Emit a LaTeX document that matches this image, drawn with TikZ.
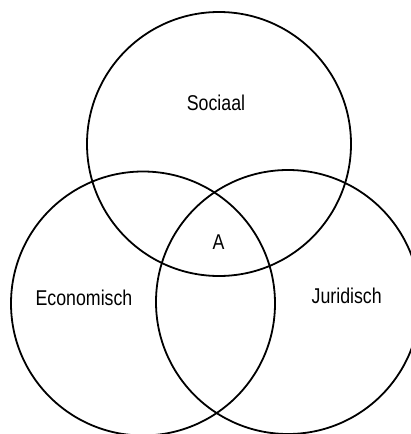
\documentclass[tikz,border=0pt]{standalone}
\usepackage{fontspec}
\setmainfont{Liberation Sans}[FakeStretch=0.83]
\begin{document}
\begin{tikzpicture}[x=1pt,y=-1pt,
  ring/.style={circle, draw=black, line width=1.8pt, minimum size=264pt, inner sep=0pt},
  lab/.style={font=\fontsize{21.4}{24}\selectfont, anchor=base, inner sep=0pt}]
\useasboundingbox (0,0) rectangle (411,434);
\node[ring] (soc) at (219,144) {};
\node[ring] (eco) at (143,303.5) {};
\node[ring] (jur) at (288,302) {};
\node[lab] (tsoc) at (216,110) {Sociaal};
\node[lab] (ta) at (218.5,249) {A};
\node[lab] (teco) at (84,305) {Economisch};
\node[lab] (tjur) at (346.7,303) {Juridisch};
\end{tikzpicture}
\end{document}
